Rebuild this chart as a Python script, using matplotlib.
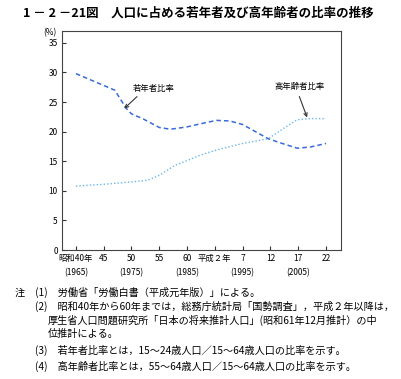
import matplotlib
matplotlib.use("Agg")
import matplotlib.pyplot as plt

plt.rcParams['font.family'] = ['Noto Sans CJK JP', 'DejaVu Sans']

# data (year, %)
young_years = [1965, 1970, 1972, 1974, 1975, 1977, 1980, 1982, 1985, 1987.3,
               1990.3, 1992.7, 1995, 1997.5, 1999.6, 2001.8, 2004.8, 2007.2, 2010]
young_vals = [29.8, 27.8, 27.0, 24.0, 23.0, 22.2, 20.7, 20.4, 20.8, 21.3,
              21.9, 21.8, 21.2, 19.9, 18.8, 18.1, 17.2, 17.4, 18.0]

old_years = [1965, 1970, 1975, 1978, 1980, 1982.8, 1985, 1987.3, 1990.3,
             1995, 1999.6, 2002.3, 2004.8, 2007.2, 2010]
old_vals = [10.8, 11.1, 11.5, 11.8, 12.6, 14.3, 15.1, 16.0, 16.9,
            18.0, 18.8, 20.5, 22.0, 22.2, 22.2]

tick_years = [1965, 1970, 1975, 1980, 1985, 1990, 1995, 2000, 2005, 2010]
tick_labels = ['昭和40年', '45', '50', '55', '60', '平成２年', '7', '12', '17', '22']
sub_years = [1965, 1975, 1985, 1995, 2005]

notes = [
    (15, 292, '注　(1)　労働省「労働白書（平成元年版）」による。'),
    (35, 306, '(2)　昭和40年から60年までは，総務庁統計局「国勢調査」，平成２年以降は，'),
    (48, 320, '厚生省人口問題研究所「日本の将来推計人口」(昭和61年12月推計）の中'),
    (48, 334, '位推計による。'),
    (35, 350, '(3)　若年者比率とは，15～24歳人口／15～64歳人口の比率を示す。'),
    (35, 366, '(4)　高年齢者比率とは，55～64歳人口／15～64歳人口の比率を示す。'),
]

W, H = 402, 379
fig = plt.figure(figsize=(W / 100, H / 100), dpi=100)
ax = fig.add_axes([62 / W, 1 - 250 / H, (341 - 62) / W, (250 - 31) / H])

ax.plot(young_years, young_vals, color='#3a6ad8', lw=1.1, ls=(0, (3, 2)))
ax.plot(old_years, old_vals, color='#6ab8ee', lw=1.0, ls=(0, (1, 1.5)))

ax.set_xlim(1962.5, 2012.7)
ax.set_ylim(0, 37)
ax.set_yticks(range(0, 36, 5))
ax.set_xticks(tick_years)
ax.set_xticklabels(tick_labels)
ax.tick_params(direction='in', length=3, labelsize=6, pad=3, color='#333333')
for s in ax.spines.values():
    s.set_color('#444444')
    s.set_linewidth(0.8)

for y in sub_years:
    ax.annotate('(%d)' % y, xy=(y, 0), xycoords='data', xytext=(0, -16.5),
                textcoords='offset points', ha='center', va='center', fontsize=6)

ax.annotate('若年者比率', xy=(1973.7, 23.9), xytext=(1975.2, 27.3),
            fontsize=6, ha='left', va='center',
            arrowprops=dict(arrowstyle='->', color='#333333', lw=0.8,
                            relpos=(0.2, 0), shrinkA=1, shrinkB=0))
ax.annotate('高年齢者比率', xy=(2006.6, 22.4), xytext=(2005.3, 27.6),
            fontsize=6, ha='center', va='center',
            arrowprops=dict(arrowstyle='->', color='#333333', lw=0.8,
                            relpos=(0.45, 0), shrinkA=2, shrinkB=0))

fig.text(50 / W, 1 - 33 / H, '(%)', fontsize=6, ha='center', va='center')
fig.text(23 / W, 1 - 13 / H, '1 － 2 －21図　人口に占める若年者及び高年齢者の比率の推移',
         fontsize=9, fontweight='bold', ha='left', va='center')

for x, y, t in notes:
    fig.text(x / W, 1 - y / H, t, fontsize=7.3, ha='left', va='center')

fig.savefig('out.png', dpi=100)
